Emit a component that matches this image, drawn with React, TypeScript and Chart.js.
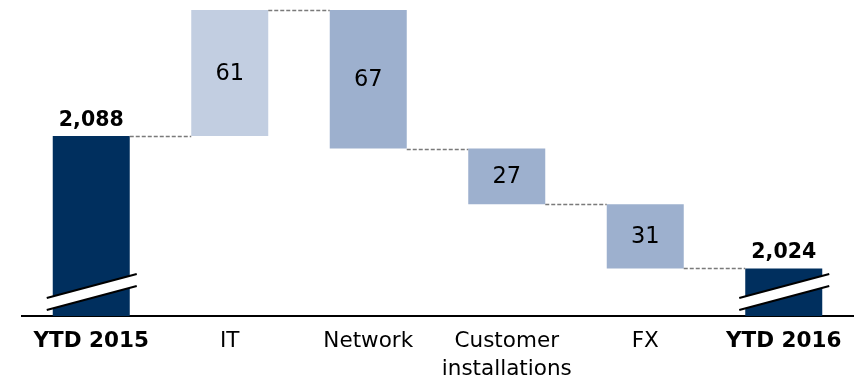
import React, { useEffect, useRef } from 'react';
import { Chart, registerables } from 'chart.js';

Chart.register(...registerables);

// ---- data ----
const categories: (string | string[])[] = ['YTD 2015', 'IT', 'Network', ['Customer', 'installations'], 'FX', 'YTD 2016'];
const startTotal = 2088;
const changes = [61, -67, -27, -31];
const endTotal = 2024;
const axisMin = 2001;
const axisMax = 2149;
const totalFlags = [true, false, false, false, false, true];
const barColors = ['#002F5E', '#C2CEE1', '#9DB0CE', '#9DB0CE', '#9DB0CE', '#002F5E'];

// ---- derived floating ranges ----
const ranges: [number, number][] = [];
const levels: number[] = [];
ranges.push([axisMin, startTotal]);
levels.push(startTotal);
{
  let running = startTotal;
  for (const c of changes) {
    const next = running + c;
    ranges.push([Math.min(running, next), Math.max(running, next)]);
    running = next;
    levels.push(running);
  }
}
ranges.push([axisMin, endTotal]);
const labelTexts: string[] = [
  startTotal.toLocaleString('en-US'),
  ...changes.map((c) => String(Math.abs(c))),
  endTotal.toLocaleString('en-US'),
];

const FONT = '"DejaVu Sans", Verdana, sans-serif';
const TICK_SIZE = 21.5;
const TICK_BOLD_SIZE = 21.5;
const TOTAL_SIZE = 20.5;
const DELTA_SIZE = 22.5;

const overlayPlugin = {
  id: 'waterfallOverlay',
  afterDatasetsDraw(chart: any) {
    const ctx = chart.ctx as CanvasRenderingContext2D;
    const meta = chart.getDatasetMeta(0);
    const yScale = chart.scales.y;
    const area = chart.chartArea;
    const bars = meta.data as any[];
    ctx.save();

    // connectors
    ctx.strokeStyle = '#7A7A7A';
    ctx.lineWidth = 1.7;
    ctx.setLineDash([4, 2]);
    for (let i = 0; i < bars.length - 1; i++) {
      const a = bars[i].getProps(['x', 'width'], true);
      const b = bars[i + 1].getProps(['x', 'width'], true);
      const y = Math.round(yScale.getPixelForValue(levels[i])) + 0.5;
      ctx.beginPath();
      ctx.moveTo(a.x + a.width / 2, y);
      ctx.lineTo(b.x - b.width / 2, y);
      ctx.stroke();
    }
    ctx.setLineDash([]);

    // break marks on total bars
    const bottom = area.bottom;
    bars.forEach((bar, i) => {
      if (!totalFlags[i]) return;
      const p = bar.getProps(['x', 'width'], true);
      const x1 = p.x - p.width / 2 - 6;
      const x2 = p.x + p.width / 2 + 7;
      ctx.fillStyle = '#FFFFFF';
      ctx.beginPath();
      ctx.moveTo(x1, bottom - 18);
      ctx.lineTo(x2, bottom - 42);
      ctx.lineTo(x2, bottom - 30);
      ctx.lineTo(x1, bottom - 6);
      ctx.closePath();
      ctx.fill();
      ctx.strokeStyle = '#000000';
      ctx.lineWidth = 2;
      ctx.beginPath();
      ctx.moveTo(x1, bottom - 18);
      ctx.lineTo(x2, bottom - 42);
      ctx.moveTo(x1, bottom - 6);
      ctx.lineTo(x2, bottom - 30);
      ctx.stroke();
    });

    // value labels
    ctx.fillStyle = '#000000';
    ctx.textAlign = 'center';
    bars.forEach((bar, i) => {
      const p = bar.getProps(['x', 'y', 'base'], true);
      if (totalFlags[i]) {
        ctx.font = `bold ${TOTAL_SIZE}px ${FONT}`;
        ctx.textBaseline = 'alphabetic';
        ctx.fillText(labelTexts[i], p.x, Math.min(p.y, p.base) - 10);
      } else {
        ctx.font = `${DELTA_SIZE}px ${FONT}`;
        ctx.textBaseline = 'middle';
        ctx.fillText(labelTexts[i], p.x, (p.y + p.base) / 2 + 1);
      }
    });
    ctx.restore();
  },
};

export default function App() {
  const canvasRef = useRef<HTMLCanvasElement | null>(null);

  useEffect(() => {
    document.body.style.margin = '0';
    const canvas = canvasRef.current;
    if (!canvas) return;
    const chart = new Chart(canvas, {
      type: 'bar',
      data: {
        labels: categories as any,
        datasets: [
          {
            data: ranges as any,
            backgroundColor: barColors,
            borderWidth: 0,
            categoryPercentage: 1,
            barPercentage: 0.556,
            borderSkipped: false,
          },
        ],
      },
      options: {
        responsive: false,
        animation: false,
        layout: { padding: { left: 22, right: 11, top: 10, bottom: 0 } },
        plugins: {
          legend: { display: false },
          tooltip: { enabled: false },
        },
        scales: {
          x: {
            grid: { display: false, drawTicks: false },
            border: { display: true, color: '#000000', width: 2 },
            ticks: {
              color: '#000000',
              padding: 12,
              maxRotation: 0,
              autoSkip: false,
              font: (c: any) => ({
                family: FONT,
                size: totalFlags[c.index] ? TICK_BOLD_SIZE : TICK_SIZE,
                lineHeight: 1.27,
                weight: totalFlags[c.index] ? 'bold' : 'normal',
              }),
            },
            afterFit: (scale: any) => {
              scale.height = 61;
            },
          },
          y: {
            display: false,
            min: axisMin,
            max: axisMax,
          },
        },
      },
      plugins: [overlayPlugin],
    });
    return () => chart.destroy();
  }, []);

  return (
    <div style={{ position: 'absolute', left: 0, top: 0, width: 864, height: 377 }}>
      <canvas ref={canvasRef} width={864} height={377} style={{ width: 864, height: 377 }} />
    </div>
  );
}
